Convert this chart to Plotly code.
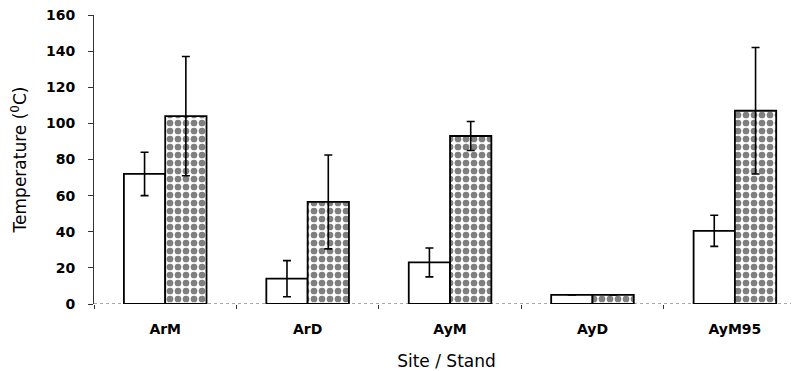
import plotly.graph_objects as go

sites = ["ArM", "ArD", "AyM", "AyD", "AyM95"]
open_vals = [72, 14, 23, 5, 40.5]
open_err = [12, 10, 8, 0, 8.6]
dotted_vals = [104, 56.5, 93, 5, 107]
dotted_err = [33, 26, 8, 0, 35]
y_ticks = [0, 20, 40, 60, 80, 100, 120, 140, 160]

FONT = "DejaVu Sans, Liberation Sans, Arial, sans-serif"

fig = go.Figure()
fig.add_trace(go.Bar(
    x=sites, y=open_vals,
    marker=dict(color="white", line=dict(color="black", width=1.8)),
    error_y=dict(type="data", array=open_err, color="black", thickness=1.6, width=4, visible=True),
    showlegend=False,
))
fig.add_trace(go.Bar(
    x=sites, y=dotted_vals,
    marker=dict(color="white", line=dict(color="black", width=1.8),
                pattern=dict(shape=".", fgcolor="black", bgcolor="white", size=8, solidity=0.55)),
    error_y=dict(type="data", array=dotted_err, color="black", thickness=1.6, width=4, visible=True),
    showlegend=False,
))

# the page body adds an 8px offset, so the figure is sized/margined to compensate
fig.update_layout(
    width=791, height=363,
    margin=dict(l=86, r=0, t=7, b=67),
    paper_bgcolor="white", plot_bgcolor="white",
    barmode="group", bargap=0.42, bargroupgap=0,
    font=dict(family=FONT, color="black", size=13),
    shapes=[dict(type="line", xref="paper", yref="y", x0=0, x1=1, y0=0, y1=0,
                 line=dict(color="#555555", width=1, dash="dot"), layer="below")],
)
fig.update_xaxes(
    range=[-0.5, 4.45], showline=False, showgrid=False, zeroline=False, automargin=False,
    tickson="boundaries", ticks="outside", ticklen=4, tickcolor="#333333",
    tickfont=dict(family=FONT, size=14, weight="bold"), ticklabelstandoff=15,
    title=dict(text="Site / Stand", font=dict(family=FONT, size=17), standoff=19),
)
fig.update_yaxes(
    range=[0, 160], tickvals=y_ticks, showline=True, linecolor="#333333", linewidth=1,
    showgrid=False, zeroline=False, automargin=False, ticklabeloverflow="allow",
    ticks="outside", ticklen=5, tickcolor="#333333",
    tickfont=dict(family=FONT, size=14, weight="bold"), ticklabelstandoff=10,
    title=dict(text="Temperature (<sup>0</sup>C)", font=dict(family=FONT, size=17), standoff=17),
)

fig.write_html("out.html")
